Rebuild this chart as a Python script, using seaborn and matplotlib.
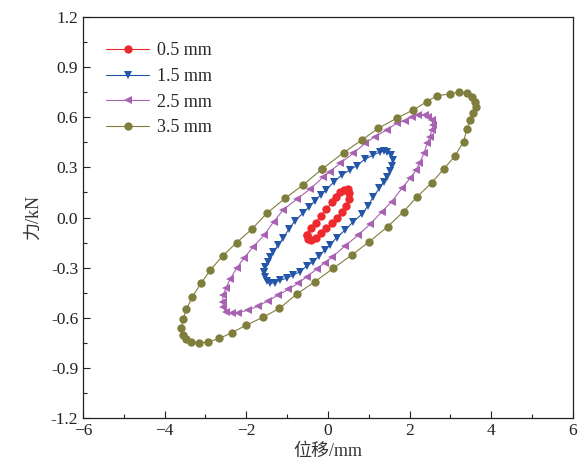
import matplotlib
matplotlib.use("Agg")
import matplotlib.pyplot as plt
from matplotlib.ticker import MultipleLocator
import numpy as np
import seaborn as sns

# loop 0.5 mm
x05 = [-0.51, -0.42, -0.30, -0.17, -0.04, 0.09, 0.20, 0.30, 0.40, 0.48, 0.52, 0.51,
       0.45, 0.35, 0.23, 0.09, -0.04, -0.16, -0.29, -0.42, -0.50]
y05 = [-0.105, -0.065, -0.03, 0.01, 0.05, 0.09, 0.125, 0.15, 0.165, 0.17, 0.145, 0.11,
       0.07, 0.03, -0.005, -0.035, -0.065, -0.09, -0.12, -0.135, -0.13]

# loop 1.5 mm
x15 = [-1.57, -1.54, -1.50, -1.42, -1.30, -1.18, -1.01, -0.85, -0.69, -0.52, -0.36, -0.22,
       -0.08, 0.05, 0.21, 0.42, 0.62, 0.83, 0.98, 1.11, 1.26, 1.36, 1.44, 1.52, 1.56, 1.58,
       1.54, 1.44, 1.36, 1.27, 1.11, 0.91, 0.70, 0.54, 0.34, 0.15, -0.05, -0.18, -0.32,
       -0.46, -0.62, -0.81, -0.96, -1.10, -1.22, -1.34, -1.42, -1.48, -1.54]
y15 = [-0.325, -0.355, -0.38, -0.394, -0.39, -0.375, -0.364, -0.344, -0.325, -0.29, -0.265, -0.23,
       -0.195, -0.165, -0.12, -0.075, -0.025, 0.02, 0.07, 0.125, 0.175, 0.214, 0.244, 0.28, 0.31, 0.344,
       0.374, 0.394, 0.398, 0.392, 0.374, 0.35, 0.31, 0.285, 0.255, 0.214, 0.165, 0.135, 0.10,
       0.065, 0.025, -0.02, -0.07, -0.125, -0.165, -0.205, -0.235, -0.265, -0.295]

# loop 2.5 mm
x25 = [-2.58, -2.57, -2.50, -2.36, -2.20, -1.95, -1.71, -1.46, -1.22, -0.97, -0.73, -0.52,
       -0.28, -0.08, 0.11, 0.42, 0.74, 1.03, 1.32, 1.56, 1.81, 2.01, 2.16, 2.24, 2.35, 2.43,
       2.50, 2.54, 2.58, 2.54, 2.46, 2.38, 2.21, 2.05, 1.89, 1.68, 1.44, 1.15, 0.91, 0.62,
       0.29, 0.05, -0.11, -0.44, -0.77, -1.10, -1.33, -1.56, -1.83, -2.06, -2.24, -2.40,
       -2.50, -2.57]
y25 = [-0.504, -0.538, -0.564, -0.574, -0.57, -0.554, -0.53, -0.498, -0.464, -0.43, -0.394, -0.354,
       -0.31, -0.27, -0.235, -0.17, -0.105, -0.04, 0.035, 0.095, 0.175, 0.235, 0.284, 0.324, 0.384, 0.444,
       0.484, 0.524, 0.554, 0.584, 0.604, 0.614, 0.614, 0.60, 0.58, 0.564, 0.524, 0.484, 0.444, 0.384,
       0.324, 0.274, 0.244, 0.17, 0.109, 0.045, -0.025, -0.105, -0.175, -0.244, -0.304, -0.37,
       -0.424, -0.464]

# loop 3.5 mm
x35 = [-0.15, 0.38, 0.83, 1.23, 1.68, 2.09, 2.42, 2.66, 2.99, 3.22, 3.40, 3.52, 3.60, 3.62,
       3.55, 3.48, 3.40, 3.32, 3.11, 2.83, 2.54, 2.17, 1.85, 1.46, 1.01, 0.58, 0.13, -0.32,
       -0.77, -1.19, -1.60, -2.00, -2.36, -2.66, -2.93, -3.15, -3.35, -3.47, -3.55, -3.59,
       -3.55, -3.47, -3.32, -3.11, -2.88, -2.58, -2.24, -1.87, -1.50, -1.05, -0.61]
y35 = [0.289, 0.388, 0.464, 0.534, 0.594, 0.644, 0.693, 0.728, 0.74, 0.75, 0.744, 0.723, 0.693, 0.663,
       0.624, 0.584, 0.528, 0.454, 0.368, 0.289, 0.208, 0.121, 0.035, -0.055, -0.145, -0.225, -0.304, -0.384,
       -0.459, -0.544, -0.598, -0.644, -0.69, -0.724, -0.744, -0.753, -0.744, -0.73, -0.704, -0.664,
       -0.61, -0.55, -0.474, -0.394, -0.314, -0.23, -0.151, -0.071, 0.025, 0.115, 0.195]

labels = ["0.5 mm", "1.5 mm", "2.5 mm", "3.5 mm"]
colors = ["#EE2A2E", "#2356A8", "#A862B2", "#807E3C"]
markers = ["o", "v", "<", "o"]

sns.set_style("ticks")
plt.rcParams["font.family"] = ["Liberation Serif", "Noto Sans CJK SC"]
plt.rcParams["axes.unicode_minus"] = True

fig = plt.figure(figsize=(5.82, 4.73), dpi=100)
ax = fig.add_axes([0.1426, 0.1163, 0.8419, 0.8477])

series = [(x05, y05), (x15, y15), (x25, y25), (x35, y35)]
for (xs, ys), lab, c, m in zip(series, labels, colors, markers):
    # close each loop back to its first point
    xx = np.r_[xs, xs[:1]]
    yy = np.r_[ys, ys[:1]]
    sns.lineplot(x=xx, y=yy, sort=False, estimator=None, ax=ax, color=c, marker=m,
                 markersize=6, markeredgewidth=0, linewidth=0.8, label=lab)

ax.set_xlim(-6, 6)
ax.set_ylim(-1.2, 1.2)
ax.xaxis.set_major_locator(MultipleLocator(2))
ax.xaxis.set_minor_locator(MultipleLocator(1))
ax.yaxis.set_major_locator(MultipleLocator(0.3))
ax.yaxis.set_minor_locator(MultipleLocator(0.15))
ax.yaxis.set_major_formatter(matplotlib.ticker.FormatStrFormatter("%.1f"))
ax.tick_params(which="both", direction="in", top=False, right=False, labelsize=12.5,
               colors="#222222")
ax.tick_params(which="major", length=5, width=0.8)
ax.tick_params(which="minor", length=3, width=0.8)
for s in ax.spines.values():
    s.set_visible(True)
    s.set_color("#222222")
    s.set_linewidth(0.9)

ax.set_xlabel("位移/mm", fontsize=13, color="#333333", labelpad=3)
ax.set_ylabel("力/kN", fontsize=13, color="#333333", labelpad=6)

ax.legend(loc="upper left", frameon=False, fontsize=13, handlelength=2.4,
          labelspacing=0.48, borderaxespad=0.6, handletextpad=0.4,
          bbox_to_anchor=(0.01, 0.982))

fig.savefig("out.png", dpi=100)
